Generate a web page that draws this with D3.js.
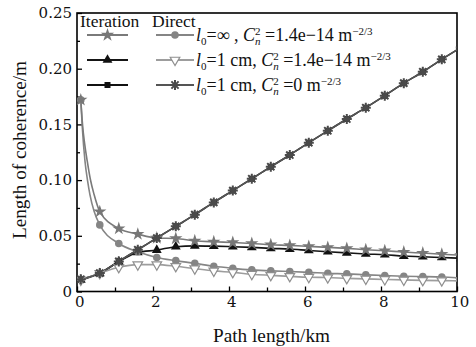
<!DOCTYPE html>
<html>
<head>
<meta charset="utf-8">
<script src="https://cdn.jsdelivr.net/npm/d3@7"></script>
<style>
  body { margin: 0; background: #fff; }
  text { font-family: "Liberation Serif", "Times New Roman", serif; }
</style>
</head>
<body>
<div id="chart"></div>
<script>
// path length (km) of the plotted points, one marker each
var xKm = [0.1, 0.6, 1.1, 1.6, 2.1, 2.6, 3.1, 3.6, 4.1, 4.6, 5.1, 5.6, 6.1, 6.6, 7.1, 7.6, 8.1, 8.6, 9.1, 9.6, 10.1];

// iteration, l0 = inf, Cn2 = 1.4e-14 (star)
var starVals = [0.172, 0.0717, 0.0565, 0.0515, 0.048, 0.0476, 0.0455, 0.0446, 0.044, 0.0431, 0.042, 0.0414, 0.0405, 0.0396, 0.0387, 0.0375, 0.0366, 0.0354, 0.0345, 0.0335, 0.0325];
// direct, l0 = inf, Cn2 = 1.4e-14 (circle)
var circleVals = [0.172, 0.0598, 0.0431, 0.0357, 0.0306, 0.0277, 0.0253, 0.0226, 0.0208, 0.0194, 0.0185, 0.0179, 0.0172, 0.0163, 0.0158, 0.015, 0.0143, 0.0137, 0.0134, 0.013, 0.0122];
// iteration, l0 = 1 cm, Cn2 = 1.4e-14 (triangle)
var triUpVals = [0.0104, 0.0163, 0.0268, 0.0351, 0.0372, 0.0402, 0.041, 0.0407, 0.0402, 0.0396, 0.0387, 0.0381, 0.0368, 0.0357, 0.0347, 0.0337, 0.033, 0.0318, 0.0312, 0.0305, 0.0298];
// direct, l0 = 1 cm, Cn2 = 1.4e-14 (open triangle)
var triDownVals = [0.0104, 0.0163, 0.0217, 0.0241, 0.0241, 0.0226, 0.0205, 0.0185, 0.0172, 0.0155, 0.0145, 0.0136, 0.0128, 0.0125, 0.0118, 0.0113, 0.0108, 0.0104, 0.01, 0.0098, 0.0095];
// iteration, l0 = 1 cm, Cn2 = 0 (square)
var squareVals = [0.011, 0.0165, 0.027, 0.0375, 0.048, 0.0585, 0.069, 0.08, 0.0906, 0.1012, 0.112, 0.1225, 0.1336, 0.1443, 0.1548, 0.165, 0.1758, 0.187, 0.1973, 0.2084, 0.219];
// direct, l0 = 1 cm, Cn2 = 0 (asterisk)
var asteriskVals = [0.011, 0.0165, 0.027, 0.0375, 0.048, 0.0585, 0.069, 0.08, 0.0906, 0.1012, 0.112, 0.1225, 0.1336, 0.1443, 0.1548, 0.165, 0.1758, 0.187, 0.1973, 0.2084, 0.219];

var starHeadX = [0.15, 0.2, 0.27, 0.35, 0.45];
var starHeadY = [0.148, 0.133, 0.117, 0.101, 0.087];
var circleHeadX = [0.14, 0.21, 0.28, 0.34, 0.45];
var circleHeadY = [0.147, 0.117, 0.099, 0.087, 0.072];

var yTicks = [0, 0.05, 0.1, 0.15, 0.2, 0.25];
var yMinor = [0.025, 0.075, 0.125, 0.175, 0.225];
var xTicks = [0, 2, 4, 6, 8, 10];
var xMinor = [1, 3, 5, 7, 9];

var W = 476, H = 347;
var pLeft = 77, pRight = 457, pTop = 13, pBottom = 291.5;

var svg = d3.select("#chart").append("svg")
    .attr("width", W)
    .attr("height", H);

var x = d3.scaleLinear().domain([0, 10]).range([pLeft, pRight]);
var y = d3.scaleLinear().domain([0, 0.25]).range([pBottom, pTop]);

svg.append("clipPath").attr("id", "plotclip")
  .append("rect")
    .attr("x", pLeft).attr("y", pTop)
    .attr("width", pRight - pLeft).attr("height", pBottom - pTop);

// axes, ticks point inward
svg.append("g")
    .attr("transform", "translate(" + pLeft + ",0)")
    .call(d3.axisLeft(y).tickValues(yTicks).tickSize(-5).tickPadding(5)
      .tickFormat(function (d) { return d === 0 ? "0" : d3.format(".2f")(d); }));
svg.append("g")
    .attr("transform", "translate(" + pLeft + ",0)")
    .call(d3.axisLeft(y).tickValues(yMinor).tickSize(-3).tickFormat(""));

var xAxis = svg.append("g")
    .attr("transform", "translate(0," + pBottom + ")")
    .call(d3.axisBottom(x).tickValues(xTicks).tickSize(-5).tickPadding(5));
svg.append("g")
    .attr("transform", "translate(0," + pBottom + ")")
    .call(d3.axisBottom(x).tickValues(xMinor).tickSize(-4).tickFormat(""));

svg.selectAll(".domain").remove();
svg.selectAll(".tick line").attr("stroke", "#000").attr("stroke-width", 1.3);
svg.selectAll(".tick text")
    .attr("fill", "#111")
    .style("font-size", "15px")
    .style("font-family", "'DejaVu Serif', serif");
xAxis.selectAll(".tick text").attr("dx", "0.15em");

// frame
svg.append("rect")
    .attr("x", pLeft).attr("y", pTop)
    .attr("width", pRight - pLeft).attr("height", pBottom - pTop)
    .attr("fill", "none")
    .attr("stroke", "#000")
    .attr("stroke-width", 1.6);

svg.append("text")
    .attr("x", 213)
    .attr("y", 342)
    .attr("textLength", 117)
    .attr("lengthAdjust", "spacingAndGlyphs")
    .style("font-size", "18px")
    .attr("fill", "#111")
    .text("Path length/km");

svg.append("text")
    .attr("transform", "translate(26,239) rotate(-90)")
    .attr("textLength", 178)
    .attr("lengthAdjust", "spacingAndGlyphs")
    .style("font-size", "18px")
    .attr("fill", "#111")
    .text("Length of coherence/m");

// series
function zipPts(xs, ys) {
  return xs.map(function (d, i) { return [d, ys[i]]; });
}
function withHead(xs, ys, hx, hy) {
  return zipPts(xs, ys).concat(zipPts(hx, hy)).sort(function (a, b) { return a[0] - b[0]; });
}

var asteriskPath = "M-5,0L5,0M0,-5L0,5M-3.6,-3.6L3.6,3.6M-3.6,3.6L3.6,-3.6";

var series = [
  { name: "square", vals: squareVals, line: zipPts(xKm, squareVals), color: "#111", symbol: d3.symbolSquare, size: 36, fill: "#111", stroke: "none" },
  { name: "triUp", vals: triUpVals, line: zipPts(xKm, triUpVals), color: "#151515", symbol: d3.symbolTriangle, size: 42, fill: "#111", stroke: "none" },
  { name: "circle", vals: circleVals, line: withHead(xKm, circleVals, circleHeadX, circleHeadY), color: "#858585", symbol: d3.symbolCircle, size: 45, fill: "#858585", stroke: "none" },
  { name: "triDown", vals: triDownVals, line: zipPts(xKm, triDownVals), color: "#9d9d9d", symbol: d3.symbolTriangle, size: 40, fill: "#fff", stroke: "#8f8f8f", flip: true },
  { name: "star", vals: starVals, line: withHead(xKm, starVals, starHeadX, starHeadY), color: "#7a7a7a", symbol: d3.symbolStar, size: 55, fill: "#777", stroke: "none" },
  { name: "asterisk", vals: asteriskVals, line: zipPts(xKm, asteriskVals), color: "#555", custom: asteriskPath, fill: "none", stroke: "#4a4a4a" }
];

var line = d3.line()
    .x(function (d) { return x(d[0]); })
    .y(function (d) { return y(d[1]); })
    .curve(d3.curveMonotoneX);

function markerPath(s) {
  return s.custom ? s.custom : d3.symbol().type(s.symbol).size(s.size)();
}

var plot = svg.append("g").attr("clip-path", "url(#plotclip)");

series.forEach(function (s) {
  plot.append("path")
      .datum(s.line)
      .attr("fill", "none")
      .attr("stroke", s.color)
      .attr("stroke-width", 1.6)
      .attr("d", line);
});

series.forEach(function (s) {
  plot.append("g")
    .selectAll("path")
    .data(zipPts(xKm, s.vals))
    .enter()
    .append("path")
      .attr("d", markerPath(s))
      .attr("transform", function (d) {
        return "translate(" + x(d[0]) + "," + y(d[1]) + ")" + (s.flip ? " rotate(180)" : "");
      })
      .attr("fill", s.fill)
      .attr("stroke", s.stroke)
      .attr("stroke-width", s.custom ? 2 : 1.2);
});

// legend
var legendRows = [
  { iter: series[4], direct: series[2], parts: [
      { t: "l", it: true }, { t: "0", sh: 4, fs: 11 }, { t: "=\u221e , " },
      { t: "C", it: true }, { t: "2", sh: -6, fs: 11 }, { t: "n", sh: 4, fs: 11, it: true, dx: -5.5 },
      { t: " =1.4e\u221214 m" }, { t: "\u22122/3", sh: -6, fs: 11 } ] },
  { iter: series[1], direct: series[3], parts: [
      { t: "l", it: true }, { t: "0", sh: 4, fs: 11 }, { t: "=1 cm, " },
      { t: "C", it: true }, { t: "2", sh: -6, fs: 11 }, { t: "n", sh: 4, fs: 11, it: true, dx: -5.5 },
      { t: " =1.4e\u221214 m" }, { t: "\u22122/3", sh: -6, fs: 11 } ] },
  { iter: series[0], direct: series[5], parts: [
      { t: "l", it: true }, { t: "0", sh: 4, fs: 11 }, { t: "=1 cm, " },
      { t: "C", it: true }, { t: "2", sh: -6, fs: 11 }, { t: "n", sh: 4, fs: 11, it: true, dx: -5.5 },
      { t: " =0 m" }, { t: "\u22122/3", sh: -6, fs: 11 } ] }
];

svg.append("text").attr("x", 80).attr("y", 27)
    .style("font-size", "17.5px").attr("fill", "#111").text("Iteration");
svg.append("text").attr("x", 152).attr("y", 27)
    .style("font-size", "17.5px").attr("fill", "#111").text("Direct");

var legend = svg.append("g")
  .selectAll("g")
  .data(legendRows)
  .enter()
  .append("g")
    .attr("transform", function (d, i) { return "translate(0," + (35 + i * 25) + ")"; });

legend.each(function (d) {
  var g = d3.select(this);
  [[d.iter, 87, 128], [d.direct, 156, 194]].forEach(function (e) {
    var s = e[0];
    g.append("line")
        .attr("x1", e[1]).attr("x2", e[2])
        .attr("stroke", s.color).attr("stroke-width", 1.8);
    g.append("path")
        .attr("d", markerPath(s))
        .attr("transform", "translate(" + (e[1] + e[2]) / 2 + ",0)" + (s.flip ? " rotate(180)" : ""))
        .attr("fill", s.fill)
        .attr("stroke", s.stroke)
        .attr("stroke-width", s.custom ? 2 : 1.2);
  });
  var t = g.append("text").attr("x", 196).attr("y", 6)
      .style("font-size", "18px").attr("fill", "#111");
  var prev = 0;
  d.parts.forEach(function (p) {
    var sh = p.sh || 0;
    t.append("tspan")
        .attr("dy", sh - prev)
        .attr("dx", p.dx || 0)
        .style("font-size", (p.fs || 18) + "px")
        .style("font-style", p.it ? "italic" : "normal")
        .text(p.t);
    prev = sh;
  });
});
</script>
</body>
</html>
